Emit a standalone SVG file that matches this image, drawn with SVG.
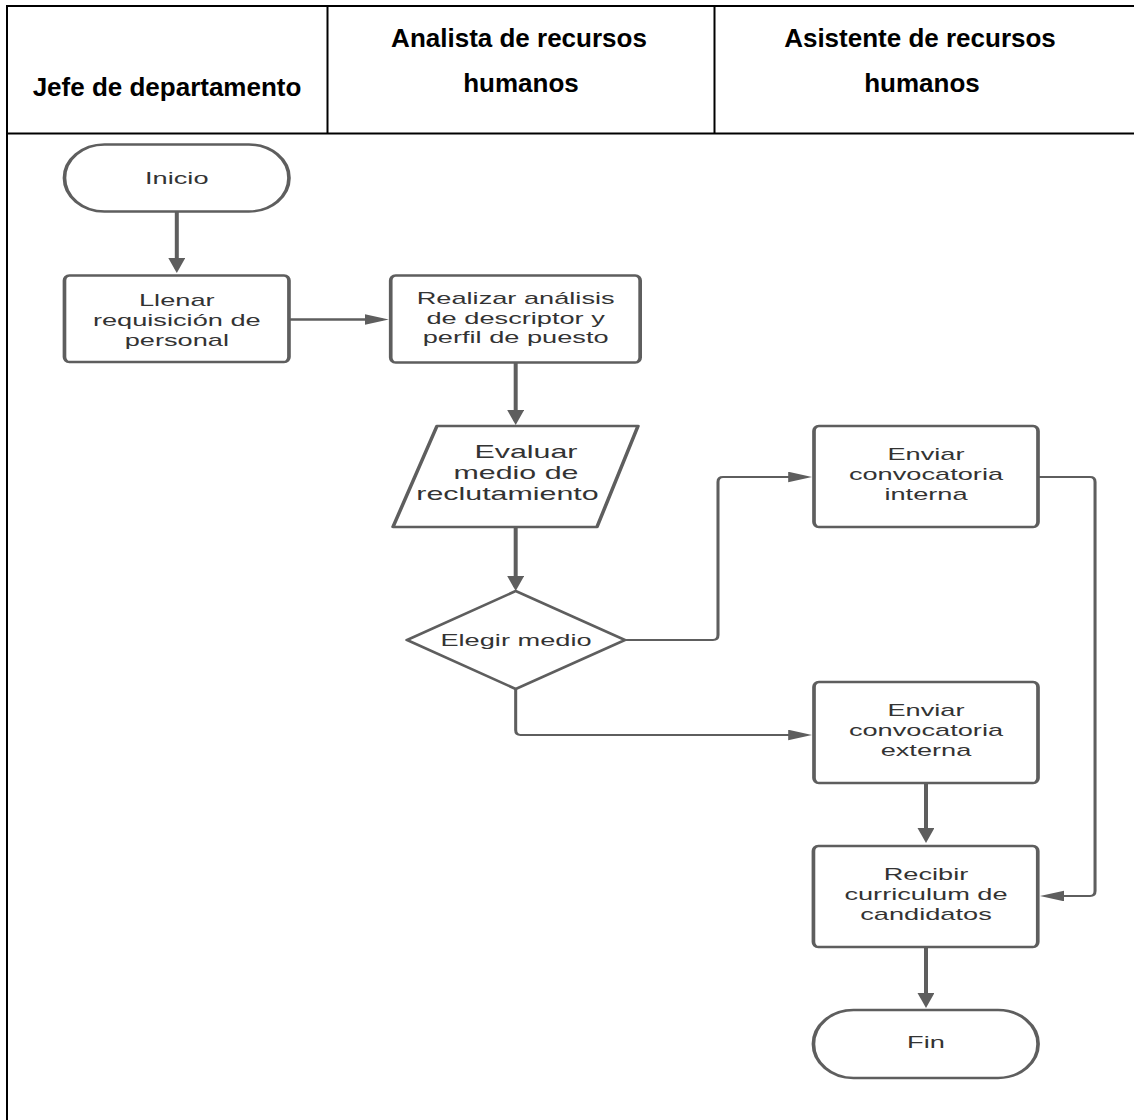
<svg xmlns="http://www.w3.org/2000/svg" width="1134" height="1120" viewBox="0 0 1134 1120">
  <style>
    .grid { stroke: #000; stroke-width: 2; fill: none; }
    .head { font-family: "Liberation Sans", Arial, sans-serif; font-weight: bold; font-size: 26px; fill: #000; text-anchor: middle; }
    .shape { fill: #fff; stroke: #5e5e5e; stroke-width: 2.3; stroke-linejoin: round; }
    .label { font-family: "Liberation Sans", Arial, sans-serif; font-size: 17px; fill: #333; text-anchor: middle; }
    .label.big { font-size: 19px; }
    .link { fill: none; stroke: #5e5e5e; stroke-width: 2.5; marker-end: url(#arrow); }
    .link.elbow { stroke-width: 1.9; }
  </style>
  <defs>
    <marker id="arrow" markerUnits="userSpaceOnUse" markerWidth="15" markerHeight="11" refX="11" refY="5.3" orient="auto">
      <path d="M0,0 L15,5.3 L0,10.6 Z" fill="#5e5e5e"/>
    </marker>
  </defs>

  <rect width="1134" height="1120" fill="#fff"/>

  <!-- swimlane table -->
  <g id="table">
    <line class="grid" x1="6" y1="6" x2="1134" y2="6"/>
    <line class="grid" x1="7" y1="5" x2="7" y2="1120"/>
    <line class="grid" x1="6" y1="133.5" x2="1134" y2="133.5"/>
    <line class="grid" x1="327.5" y1="6" x2="327.5" y2="133"/>
    <line class="grid" x1="714.5" y1="6" x2="714.5" y2="133"/>
    <text class="head" x="167" y="96">Jefe de departamento</text>
    <text class="head" x="519" y="47">Analista de recursos</text>
    <text class="head" x="521" y="92">humanos</text>
    <text class="head" x="920" y="47">Asistente de recursos</text>
    <text class="head" x="922" y="92">humanos</text>
  </g>

  <!-- flowchart, drawn on a horizontally stretched canvas -->
  <g transform="scale(1.6 1)">
    <g id="connectors">
      <path class="link" d="M110.5 212 V269"/>
      <path class="link" d="M181 319.5 H239"/>
      <path class="link" d="M322.3 363 V421"/>
      <path class="link" d="M322.3 527 V587"/>
      <path class="link elbow" d="M390.6 640 H445.6 Q448.75 640 448.75 635 V482 Q448.75 477 451.9 477 H503.6"/>
      <path class="link elbow" d="M322.3 689 V730 Q322.3 735 325.4 735 H503.6"/>
      <path class="link elbow" d="M648.75 477 H681.3 Q684.4 477 684.4 482 V891 Q684.4 896 681.3 896 H654"/>
      <path class="link" d="M578.75 783 V839"/>
      <path class="link" d="M578.75 947 V1004"/>
    </g>

    <g id="inicio">
      <rect class="shape" x="40.3" y="144.5" width="140.3" height="67" rx="25" ry="33.5"/>
      <text class="label" x="110.5" y="184">Inicio</text>
    </g>

    <g id="llenar-requisicion">
      <rect class="shape" x="40.3" y="275.5" width="140.3" height="86.5" rx="3.1" ry="5"/>
      <text class="label" x="110.5" y="306.5">Llenar</text>
      <text class="label" x="110.5" y="326.5">requisición de</text>
      <text class="label" x="110.5" y="346.5">personal</text>
    </g>

    <g id="realizar-analisis">
      <rect class="shape" x="244.2" y="275.5" width="155.9" height="87" rx="3.1" ry="5"/>
      <text class="label" x="322.3" y="304">Realizar análisis</text>
      <text class="label" x="322.3" y="324">de descriptor y</text>
      <text class="label" x="322.3" y="343.5">perfil de puesto</text>
    </g>

    <g id="evaluar-medio">
      <polygon class="shape" points="273.1,426 398.75,426 373.1,527 245.6,527"/>
      <text class="label big" x="328.75" y="458">Evaluar</text>
      <text class="label big" x="322.5" y="479">medio de</text>
      <text class="label big" x="317.2" y="500">reclutamiento</text>
    </g>

    <g id="elegir-medio">
      <polygon class="shape" points="322.3,591 390.6,640 322.3,689 254.4,640"/>
      <text class="label" x="322.5" y="646">Elegir medio</text>
    </g>

    <g id="convocatoria-interna">
      <rect class="shape" x="508.75" y="426" width="140" height="101" rx="3.1" ry="5"/>
      <text class="label" x="578.75" y="460">Enviar</text>
      <text class="label" x="578.75" y="480">convocatoria</text>
      <text class="label" x="578.75" y="500">interna</text>
    </g>

    <g id="convocatoria-externa">
      <rect class="shape" x="508.75" y="682" width="140" height="101" rx="3.1" ry="5"/>
      <text class="label" x="578.75" y="716">Enviar</text>
      <text class="label" x="578.75" y="736">convocatoria</text>
      <text class="label" x="578.75" y="756">externa</text>
    </g>

    <g id="recibir-curriculum">
      <rect class="shape" x="508.4" y="846" width="140.2" height="101" rx="3.1" ry="5"/>
      <text class="label" x="578.75" y="880">Recibir</text>
      <text class="label" x="578.75" y="900">curriculum de</text>
      <text class="label" x="578.75" y="920">candidatos</text>
    </g>

    <g id="fin">
      <rect class="shape" x="508.4" y="1010" width="140.4" height="68" rx="25" ry="34"/>
      <text class="label" x="578.75" y="1048.5">Fin</text>
    </g>
  </g>
</svg>
